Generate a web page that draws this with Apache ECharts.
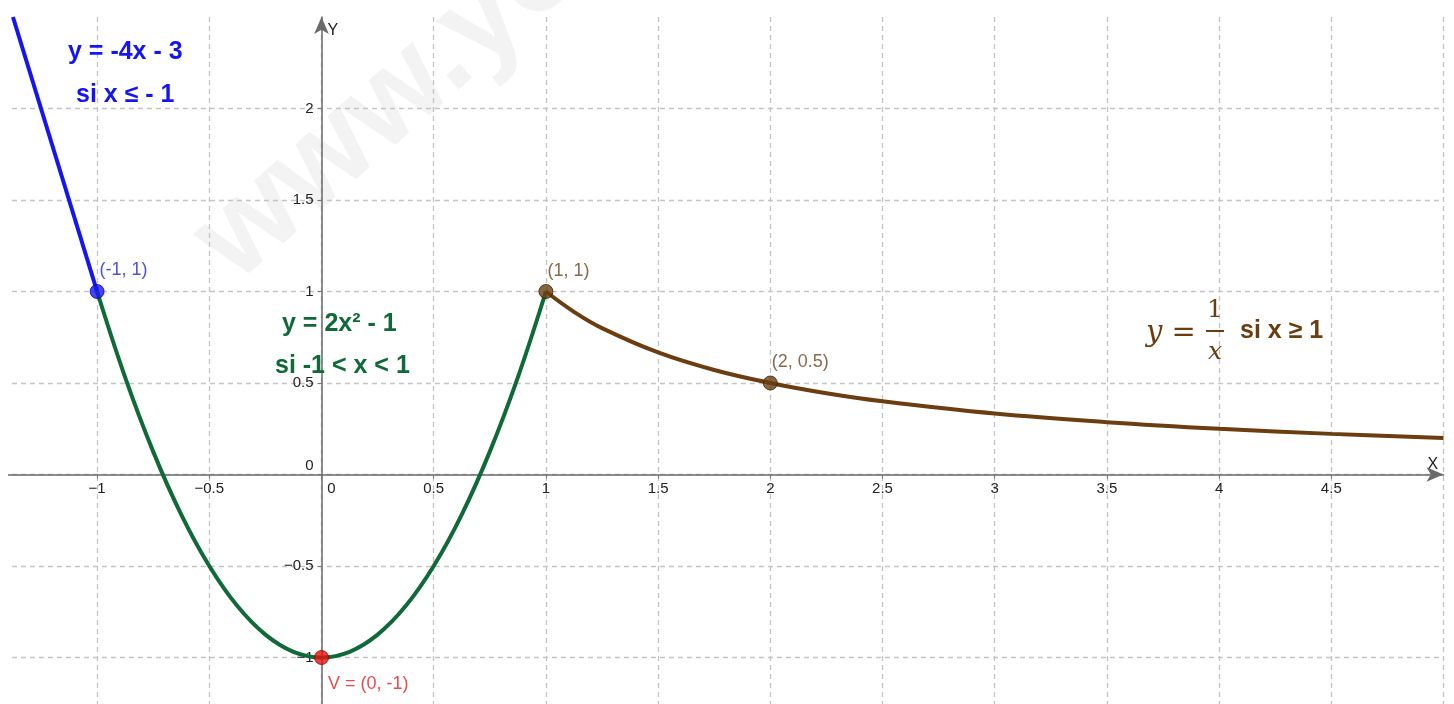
<!DOCTYPE html>
<html>
<head>
<meta charset="utf-8">
<script src="https://cdn.jsdelivr.net/npm/echarts@6/dist/echarts.min.js"></script>
<style>
html,body{margin:0;padding:0;background:#fff;}
#chart{width:1454px;height:704px;}
</style>
</head>
<body>
<div id="chart"></div>
<script>
// ---- data ----
const xTickMin = -1.5, xTickMax = 5, xStep = 0.5;
const yTickMin = -1.5, yTickMax = 2.5, yStep = 0.5;

// y = -4x - 3, x <= -1
const blueLine = [[-1.375, 2.5], [-1, 1]];

// y = 2x^2 - 1, -1 < x < 1
const greenCurve = [
  [-1, 1], [-0.875, 0.531], [-0.75, 0.125], [-0.625, -0.219], [-0.5, -0.5],
  [-0.375, -0.719], [-0.25, -0.875], [-0.125, -0.969], [0, -1],
  [0.125, -0.969], [0.25, -0.875], [0.375, -0.719], [0.5, -0.5],
  [0.625, -0.219], [0.75, 0.125], [0.875, 0.531], [1, 1]
];

// y = 1/x, x >= 1
const brownCurve = [
  [1, 1], [1.125, 0.889], [1.25, 0.8], [1.5, 0.667], [1.75, 0.571], [2, 0.5],
  [2.25, 0.444], [2.5, 0.4], [3, 0.333], [3.5, 0.286], [4, 0.25], [4.5, 0.222], [5, 0.2]
];

const pointValues = [[-1, 1], [1, 1], [2, 0.5], [0, -1]];
const pointLabels = ['(-1, 1)', '(1, 1)', '(2, 0.5)', 'V = (0, -1)'];

// ---- styles ----
const BLUE = '#1414f5', GREEN = '#0f6a38', BROWN = '#6b3d10', RED = '#e81010';
const pointColors = [BLUE, BROWN, BROWN, RED];
const pointBorders = ['#0a0a9a', '#3a2005', '#3a2005', '#9a0000'];
const labelColors = ['#2424d0', '#6b4420', '#6b4420', '#e02020'];
const labelOffsets = [[10, -23], [9, -22], [9, -22], [14, 25]];

const FONT = '"Liberation Sans", Arial, sans-serif';
const pxX = 224.4, pxY = 183;
const x0 = 321.5, y0 = 474.5;

const gridLeft = x0 + xTickMin * pxX;
const gridTop = y0 - yTickMax * pxY;
const gridW = (xTickMax - xTickMin) * pxX;
const gridH = (yTickMax - yTickMin) * pxY;

const chart = echarts.init(document.getElementById('chart'), null, {renderer: 'canvas'});

const minusFmt = v => {
  const s = String(Math.round(v * 100) / 100);
  return s.replace('-', '\u2212');
};

const option = {
  animation: false,
  backgroundColor: '#ffffff',
  grid: {
    left: gridLeft,
    top: gridTop,
    width: gridW,
    height: gridH,
    containLabel: false,
    outerBoundsMode: 'none'
  },
  xAxis: {
    type: 'value',
    position: 'bottom',
    offset: -(gridTop + gridH - y0),
    min: xTickMin, max: xTickMax, interval: xStep,
    name: 'X',
    nameLocation: 'end',
    nameGap: -16,
    nameTextStyle: {color: '#222', fontFamily: FONT, fontSize: 16, align: 'left', verticalAlign: 'bottom', padding: [0, 0, 2, 0]},
    axisLine: {onZero: false, symbol: ['none', 'arrow'], symbolSize: [11, 17],
      lineStyle: {color: '#6a6a6a', width: 1.5}},
    axisTick: {show: true, length: 4, inside: false, lineStyle: {color: '#777'}},
    axisLabel: {
      color: '#222', fontFamily: FONT, fontSize: 15, margin: 7,
      showMinLabel: false, showMaxLabel: false,
      formatter: v => v === 0 ? '{z|0}' : minusFmt(v),
      rich: {z: {padding: [0, 0, 0, 20], fontSize: 15, fontFamily: FONT, color: '#222'}}
    },
    splitLine: {show: true, showMinLine: false, showMaxLine: true,
      lineStyle: {color: '#c4c4c4', width: 1.3, type: [5, 4]}}
  },
  yAxis: {
    type: 'value',
    position: 'left',
    offset: -(x0 - gridLeft),
    min: yTickMin, max: yTickMax, interval: yStep,
    name: 'Y',
    nameLocation: 'end',
    nameGap: -6,
    nameTextStyle: {color: '#222', fontFamily: FONT, fontSize: 16, align: 'left', verticalAlign: 'top', padding: [0, 0, 0, 6]},
    axisLine: {onZero: false, symbol: ['none', 'arrow'], symbolSize: [11, 17],
      lineStyle: {color: '#6a6a6a', width: 1.5}},
    axisTick: {show: true, length: 4, lineStyle: {color: '#777'}},
    axisLabel: {
      color: '#222', fontFamily: FONT, fontSize: 15, margin: 8,
      showMinLabel: false, showMaxLabel: false,
      formatter: v => v === 0 ? '{z|0}' : minusFmt(v),
      rich: {z: {padding: [0, 0, 18, 0], fontSize: 15, fontFamily: FONT, color: '#222'}}
    },
    splitLine: {show: true, showMinLine: false, showMaxLine: false,
      lineStyle: {color: '#c4c4c4', width: 1.3, type: [5, 4]}}
  },
  graphic: [
    {type: 'text', z: -10, x: 255, y: 305, rotation: 0.72,
      style: {text: 'www.yo', font: 'bold 125px "Liberation Sans", Arial, sans-serif', fill: '#f3f3f3', textVerticalAlign: 'bottom'}},
    {type: 'rect', z: 100, shape: {x: 0, y: 0, width: 8, height: 704}, style: {fill: '#ffffff'}},
    // blue annotation
    {type: 'text', z: 50, x: 68, y: 52, style: {text: 'y = -4x - 3', font: 'bold 25px ' + FONT, fill: BLUE, textVerticalAlign: 'middle'}},
    {type: 'text', z: 50, x: 76, y: 95, style: {text: 'si x \u2264 - 1', font: 'bold 25px ' + FONT, fill: BLUE, textVerticalAlign: 'middle'}},
    // green annotation
    {type: 'text', z: 50, x: 282, y: 324, style: {text: 'y = 2x\u00b2 - 1', font: 'bold 25px ' + FONT, fill: GREEN, textVerticalAlign: 'middle'}},
    {type: 'text', z: 50, x: 275, y: 366, style: {text: 'si -1 < x < 1', font: 'bold 25px ' + FONT, fill: GREEN, textVerticalAlign: 'middle'}},
    // brown annotation y = 1/x si x >= 1
    {type: 'text', z: 50, x: 1146, y: 333, style: {text: 'y =', font: 'italic 29px "DejaVu Serif", "Liberation Serif", serif', fill: BROWN, textVerticalAlign: 'middle'}},
    {type: 'text', z: 50, x: 1215, y: 310, style: {text: '1', font: '25px "DejaVu Serif", "Liberation Serif", serif', fill: BROWN, textAlign: 'center', textVerticalAlign: 'middle'}},
    {type: 'line', z: 50, shape: {x1: 1206, y1: 331, x2: 1224, y2: 331}, style: {stroke: BROWN, lineWidth: 2}},
    {type: 'text', z: 50, x: 1215, y: 352, style: {text: 'x', font: 'italic 25px "DejaVu Serif", "Liberation Serif", serif', fill: BROWN, textAlign: 'center', textVerticalAlign: 'middle'}},
    {type: 'text', z: 50, x: 1240, y: 331, style: {text: 'si x \u2265 1', font: 'bold 25px ' + FONT, fill: BROWN, textVerticalAlign: 'middle'}}
  ],
  series: [
    {type: 'line', name: 'y = -4x - 3', data: blueLine, showSymbol: false, symbol: 'none',
      lineStyle: {color: BLUE, width: 4}, z: 3, clip: true},
    {type: 'line', name: 'y = 2x² - 1', data: greenCurve, smooth: 0.4, showSymbol: false, symbol: 'none',
      lineStyle: {color: GREEN, width: 4}, z: 3},
    {type: 'line', name: 'y = 1/x', data: brownCurve, smooth: 0.4, showSymbol: false, symbol: 'none',
      lineStyle: {color: BROWN, width: 4}, z: 3},
    {type: 'scatter', z: 5, symbolSize: 14,
      data: pointValues.map((v, i) => ({
        value: v,
        itemStyle: {color: pointColors[i], borderColor: pointBorders[i], borderWidth: 1},
        label: {show: true, formatter: pointLabels[i], position: labelOffsets[i],
          color: labelColors[i], fontFamily: FONT, fontSize: 18, align: 'left', verticalAlign: 'top'}
      }))}
  ]
};
chart.setOption(option);
</script>
</body>
</html>
